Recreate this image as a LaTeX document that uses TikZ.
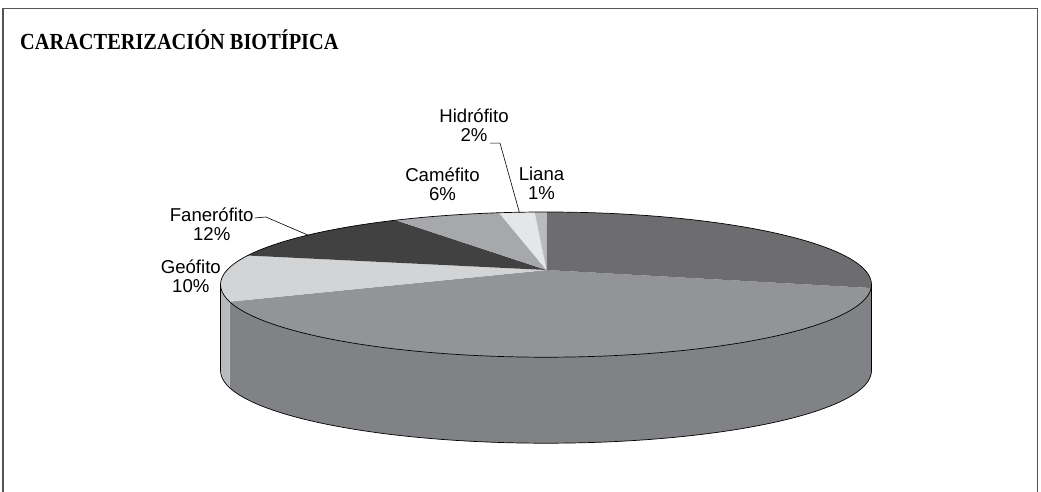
\documentclass[tikz,border=0pt]{standalone}
\usepackage{fontspec}
\setmainfont{Liberation Sans}
\newfontfamily\titlefont[FakeStretch=0.885]{Liberation Serif}
\usepackage{tikz}
\usetikzlibrary{calc}
\definecolor{framegray}{HTML}{555555}
\definecolor{terodark}{HTML}{6D6D6F}
\definecolor{bigtop}{HTML}{939497}
\definecolor{bigside}{HTML}{818286}
\definecolor{geotop}{HTML}{D3D4D6}
\definecolor{geoside}{HTML}{B9BABD}
\definecolor{fanerodark}{HTML}{414141}
\definecolor{cametop}{HTML}{A7A8AB}
\definecolor{hidrotop}{HTML}{E5E6E8}
\definecolor{lianatop}{HTML}{B9BABD}
\def\pietop[#1](#2:#3){\fill[#1] (apex) -- ($(ctr)+(#2:325.5 and 72.6)$) arc[start angle=#2, end angle=#3, x radius=325.5, y radius=72.6] -- cycle;}
\def\pieside[#1](#2:#3){\fill[#1] ($(ctr)+(#2:325.5 and 72.6)$) arc[start angle=#2, end angle=#3, x radius=325.5, y radius=72.6] -- ++(0,86) arc[start angle=#3, end angle=#2, x radius=325.5, y radius=72.6] -- cycle;}
\tikzset{
	lbl/.style={font=\fontsize{18.6}{19}\selectfont, align=center, inner sep=0pt},
	leader/.style={line width=0.6pt}
}
\begin{document}
\begin{tikzpicture}[x=1pt, y=-1pt]
			%%%%% START %%%%%
			\useasboundingbox (0, 0) rectangle (1041, 492);
			
			\draw[line width=1.6pt, color=framegray] (3, 492) -- (3, 8.5) -- (1037.5, 8.5) -- (1037.5, 492);
			\node[anchor=base west, inner sep=0pt] (title) at (20, 50) {\titlefont\fontsize{23}{24}\selectfont\bfseries CARACTERIZACIÓN BIOTÍPICA};
			
			\coordinate (ctr) at (546, 284.6);
			\coordinate (apex) at (546.5, 270);
			
			% side
			\pieside[terodark!85!black](0:2.7)
			\pieside[bigside](2.7:166.4)
			\pieside[geoside](166.4:180)
			
			% top
			\pietop[bigtop](2.7:166.4)
			\pietop[geotop](166.4:203.6)
			\pietop[fanerodark](203.6:242.5)
			\pietop[cametop](242.5:261.7)
			\pietop[hidrotop](261.7:268)
			\pietop[lianatop](268:270.2)
			\pietop[terodark](270.2:362.7)
			
			% outline
			\draw[line width=0.7pt] (ctr) ellipse [x radius=325.5, y radius=72.6];
			\draw[line width=0.7pt] ($(ctr)+(0:325.5 and 72.6)$) -- ++(0, 86) arc[start angle=0, end angle=180, x radius=325.5, y radius=72.6] -- ++(0, -86);
			
			% labels
			\node[lbl] (hidro) at (474, 125.5) {Hidrófito\\2\%};
			\node[lbl] (liana) at (541.5, 183) {Liana\\1\%};
			\node[lbl] (came) at (442.5, 184.5) {Caméfito\\6\%};
			\node[lbl] (fanero) at (211.7, 224) {Fanerófito\\12\%};
			\node[lbl] (geo) at (190.8, 276) {Geófito\\10\%};
			
			\coordinate (hidrotip) at ($(ctr)+(265.3:325.5 and 72.6)$);
			\coordinate (fanerotip) at ($(ctr)+(223:325.5 and 72.6)$);
			\draw[leader] ($(hidro.south)+(16, 1)$) -- ++(10, 0) -- (hidrotip);
			\draw[leader] ($(fanero.east)+(1, -6)$) -- ++(11, -1) -- (fanerotip);
			%%%%% END %%%%%
		\end{tikzpicture}
\end{document}
